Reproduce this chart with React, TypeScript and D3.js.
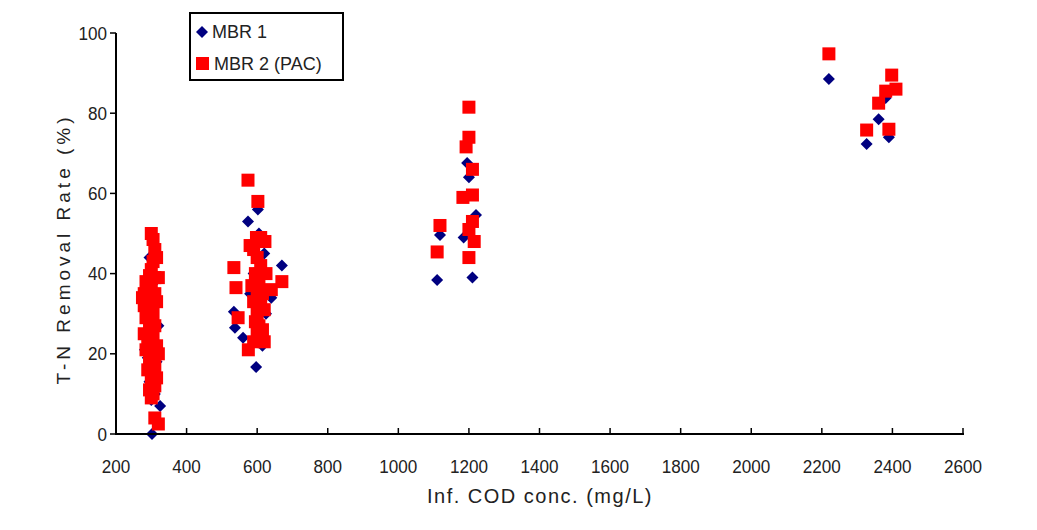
import React from "react";
import * as d3 from "d3";

// MBR 1 (blue diamonds): [Inf. COD (mg/L), T-N removal (%)]
const mbr1COD = [302, 300, 325, 295, 290, 285, 290, 320, 295, 310, 305, 300, 310, 295, 282, 315,
  574, 602, 670, 534, 537, 597, 615, 605, 620, 640, 580, 625, 560, 590,
  1195, 1200, 1220, 1118, 1185, 1110, 1210,
  2220, 2381, 2361, 2327, 2390, 2398];
const mbr1Val = [0, 8.5, 7, 13, 19, 22, 29, 27, 25, 10, 16, 33, 38, 44, 21, 18,
  53, 56, 42, 30.5, 26.5, 16.7, 22, 50, 45, 34, 35, 30, 24, 40,
  67.6, 64, 54.6, 49.6, 49, 38.4, 39,
  88.5, 83.8, 78.5, 72.3, 74, 86];

// MBR 2 (PAC) (red squares)
const mbr2COD = [300, 305, 310, 315, 305, 300, 295, 310, 320, 285, 300, 290, 280, 310, 275, 295, 315, 280, 300, 290,
  305, 285, 300, 310, 295, 280, 305, 290, 300, 315, 285, 310, 320, 295, 300, 310, 290, 305, 315, 300, 310, 295, 305, 300, 310, 320,
  574, 602, 534, 540, 546, 575, 598, 610, 622, 670, 590, 600, 610, 595, 605, 585, 600, 615, 590, 610, 600, 620, 595, 605, 615, 600, 610, 590, 620, 640, 580, 625, 600,
  1200, 1200, 1192, 1210, 1183, 1210, 1118, 1210, 1200, 1215, 1110, 1200,
  2220, 2398, 2410, 2381, 2361, 2327, 2390];
const mbr2Val = [50, 48.5, 46, 44, 43, 41, 39.5, 39, 39, 38, 37, 36, 35, 35, 34, 33, 33, 32, 31.5, 31,
  30, 29, 28, 27, 26, 25, 24, 23, 22.5, 22, 21, 20.5, 20, 19, 18, 17, 16, 15, 14, 13, 12, 11, 10, 9, 4, 2.5,
  63.3, 58, 41.5, 36.5, 29, 21, 49, 49, 48, 38, 46, 44, 42, 40, 38, 37, 35, 35, 33, 32, 30, 31, 28, 27, 26, 25, 24, 23, 23, 36, 47, 40, 39,
  81.5, 74, 71.6, 66, 59, 59.6, 52, 53, 51, 48, 45.4, 44,
  94.8, 89.5, 86, 85.5, 82.5, 75.8, 76];

const xTicks = [200, 400, 600, 800, 1000, 1200, 1400, 1600, 1800, 2000, 2200, 2400, 2600];
const yTicks = [0, 20, 40, 60, 80, 100];
const seriesNames = ["MBR 1", "MBR 2 (PAC)"];

const W = 1037;
const H = 530;
const BLUE = "#000080";
const RED = "#ff0000";
const FONT = "'Liberation Sans', Arial, sans-serif";

export default function App() {
  const x = d3.scaleLinear().domain([200, 2600]).range([116, 963]);
  const y = d3.scaleLinear().domain([0, 100]).range([434, 33]);
  const r = 6;
  const diamond = `M0,${-r}L${r},0L0,${r}L${-r},0Z`;
  const sq = 13;

  const blue = mbr1COD.map((c, i) => ({ c, v: mbr1Val[i] }));
  const red = mbr2COD.map((c, i) => ({ c, v: mbr2Val[i] }));

  return (
    <svg width={W} height={H} style={{ position: "absolute", left: 0, top: 0, background: "#fff" }}>
      <rect x={0} y={0} width={W} height={H} fill="#fff" />
      {blue.map((d, i) => (
        <path key={"b" + i} d={diamond} transform={`translate(${x(d.c)},${y(d.v)})`} fill={BLUE} />
      ))}
      {red.map((d, i) => (
        <rect key={"r" + i} x={x(d.c) - sq / 2} y={y(d.v) - sq / 2} width={sq} height={sq} fill={RED} />
      ))}
      <line x1={116} x2={116} y1={33} y2={434} stroke="#000" strokeWidth={2} />
      <line x1={115} x2={964} y1={434} y2={434} stroke="#000" strokeWidth={2} />
      {yTicks.map((t) => (
        <g key={"y" + t}>
          <line x1={110} x2={116} y1={y(t)} y2={y(t)} stroke="#000" strokeWidth={1.5} />
          <text x={107} y={y(t)} dy="0.35em" textAnchor="end" fontFamily={FONT} fontSize={19} fill="#222"
            transform={`translate(${107 * 0.1},0) scale(0.9,1)`}>
            {t}
          </text>
        </g>
      ))}
      {xTicks.map((t) => (
        <g key={"x" + t} transform={`translate(${x(t)},0)`}>
          <line x1={0} x2={0} y1={428} y2={434} stroke="#000" strokeWidth={1.5} />
          <text x={0} y={466} dy="0.35em" textAnchor="middle" fontFamily={FONT} fontSize={19} fill="#222"
            transform="scale(0.9,1)">
            {t}
          </text>
        </g>
      ))}
      <text x={540} y={496} dy="0.35em" textAnchor="middle" fontFamily={FONT} fontSize={20} fill="#222" letterSpacing={1.5}>
        Inf. COD conc. (mg/L)
      </text>
      <text
        transform="translate(63,249) rotate(-90)"
        dy="0.35em"
        textAnchor="middle"
        fontFamily={FONT}
        fontSize={19}
        fill="#222"
        letterSpacing={4}
      >
        T-N Removal Rate (%)
      </text>
      <rect x={190} y={13} width={153} height={67} fill="#fff" stroke="#000" strokeWidth={2} />
      <path d={diamond} transform="translate(202,32)" fill={BLUE} />
      <text x={212} y={32} dy="0.35em" fontFamily={FONT} fontSize={18} fill="#222">
        {seriesNames[0]}
      </text>
      <rect x={196} y={57} width={13} height={13} fill={RED} />
      <text x={214} y={64} dy="0.35em" fontFamily={FONT} fontSize={18} fill="#222">
        {seriesNames[1]}
      </text>
    </svg>
  );
}
